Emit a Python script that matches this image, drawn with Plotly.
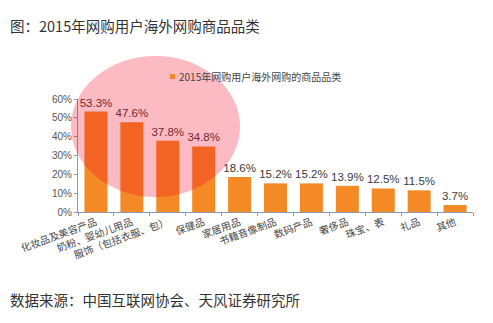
import plotly.graph_objects as go

categories = ["化妆品及美容产品", "奶粉、婴幼儿用品", "服饰（包括衣服、包）", "保健品", "家居用品",
              "书籍音像制品", "数码产品", "奢侈品", "珠宝、表", "礼品", "其他"]
values = [53.3, 47.6, 37.8, 34.8, 18.6, 15.2, 15.2, 13.9, 12.5, 11.5, 3.7]
value_labels = [f"{v:.1f}%" for v in values]
y_ticks = [0, 10, 20, 30, 40, 50, 60]
y_tick_text = [f"{t}%" for t in y_ticks]
series_name = "2015年网购用户海外网购的商品品类"
title_text = "图：2015年网购用户海外网购商品品类"
source_text = "数据来源：中国互联网协会、天风证券研究所"

W, H = 493, 323
ML, MR, MT, MB = 78, 20, 99, 111
PW, PH = W - ML - MR, H - MT - MB

def px(x):
    return (x - ML) / PW

def py(y):
    return (H - MB - y) / PH

CJK = "Noto Sans CJK SC, Liberation Sans, sans-serif"
NUM = "Liberation Sans, Noto Sans CJK SC, sans-serif"

fig = go.Figure()
fig.add_trace(go.Bar(
    x=categories, y=values, text=value_labels, textposition="outside",
    constraintext="none",
    textfont=dict(family=NUM, size=11.5, color="#3a3a3a"),
    marker=dict(color="#F38A26", line=dict(width=0)),
    cliponaxis=False, name=series_name, showlegend=False,
))

fig.update_layout(
    width=W, height=H, margin=dict(l=ML, r=MR, t=MT, b=MB),
    paper_bgcolor="white", plot_bgcolor="white",
    bargap=0.36,
    xaxis=dict(type="category", tickangle=-20, tickson="boundaries",
               ticks="outside", ticklen=3, tickcolor="#8a9ab0",
               showline=True, linecolor="#8a9ab0", linewidth=1,
               tickfont=dict(family=CJK, size=10, color="#444"),
               showgrid=False),
    yaxis=dict(range=[0, 60], tickvals=y_ticks, ticktext=y_tick_text,
               ticks="outside", ticklen=3, tickcolor="#8a9ab0",
               showline=True, linecolor="#8a9ab0", linewidth=1,
               tickfont=dict(family=NUM, size=10, color="#555"),
               showgrid=False, zeroline=False),
    font=dict(family=CJK),
)

# highlight ellipse
fig.add_shape(type="circle", xref="paper", yref="paper",
              x0=px(71), x1=px(240), y0=py(197), y1=py(56),
              fillcolor="rgba(245,0,35,0.27)", line=dict(width=0), layer="above")

# legend marker + text
fig.add_shape(type="rect", xref="paper", yref="paper",
              x0=px(170), x1=px(175), y0=py(79), y1=py(74),
              fillcolor="#F38A26", line=dict(width=0))
fig.add_annotation(xref="paper", yref="paper", x=px(177), y=py(76.5),
                   xanchor="left", yanchor="middle", showarrow=False,
                   text=series_name, font=dict(family=CJK, size=10, color="#444"))

fig.add_annotation(xref="paper", yref="paper", x=px(8), y=py(25),
                   xanchor="left", yanchor="middle", showarrow=False,
                   text=title_text, font=dict(family=CJK, size=14.5, color="#333"))
fig.add_annotation(xref="paper", yref="paper", x=px(8), y=py(299),
                   xanchor="left", yanchor="middle", showarrow=False,
                   text=source_text, font=dict(family=CJK, size=14.5, color="#333"))

fig.write_html("out.html")
